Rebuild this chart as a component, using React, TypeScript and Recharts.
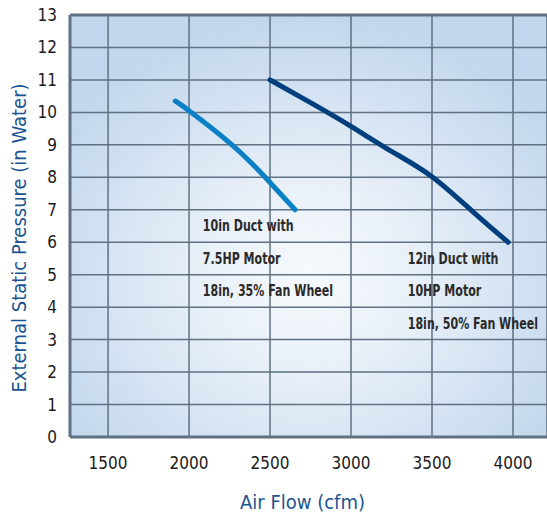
import React from 'react';
import { LineChart, Line, XAxis, YAxis, CartesianGrid, ReferenceLine, ReferenceDot } from 'recharts';

// 10in duct / 7.5HP motor curve
const smallFanFlow = [1915, 2000, 2265, 2470, 2655];
const smallFanPressure = [10.35, 10.05, 9.0, 8.0, 7.0];

// 12in duct / 10HP motor curve
const largeFanFlow = [2500, 2750, 3000, 3250, 3500, 3750, 3970];
const largeFanPressure = [11.0, 10.3, 9.57, 8.8, 8.02, 6.95, 6.0];

const xTicks = [1500, 2000, 2500, 3000, 3500, 4000];
const yTicks = [0, 1, 2, 3, 4, 5, 6, 7, 8, 9, 10, 11, 12, 13];

const smallFanNotes = ['10in Duct with', '7.5HP Motor', '18in, 35% Fan Wheel'];
const largeFanNotes = ['12in Duct with', '10HP Motor', '18in, 50% Fan Wheel'];

const smallData = smallFanFlow.map((x, i) => ({ x, y: smallFanPressure[i] }));
const largeData = largeFanFlow.map((x, i) => ({ x, y: largeFanPressure[i] }));

const FONT = "'Liberation Sans Narrow', 'DejaVu Sans Condensed', 'Roboto', sans-serif";
const GRID = '#5f7182';

// no narrow bold font installed, so squeeze the notes horizontally
const noteShape = (text: string) => (props: any) => (
  <text
    transform={`translate(${props.cx}, ${props.cy}) scale(0.82, 1)`}
    dominantBaseline="central"
    fontFamily={FONT}
    fontWeight="bold"
    fontSize={15}
    fill="#2a2a2a"
  >
    {text}
  </text>
);

const App: React.FC = () => {
  return (
    <div style={{ position: 'absolute', left: 0, top: 0, width: 547, height: 516, background: '#fff' }}>
      <LineChart
        width={547}
        height={516}
        margin={{ top: 15, right: 0, bottom: 0, left: 0 }}
        style={{ fontFamily: FONT }}
      >
        <defs>
          <radialGradient id="plotGlow" cx="0.5" cy="0.62" r="0.62">
            <stop offset="0%" stopColor="#f7fafd" />
            <stop offset="35%" stopColor="#e9f0f8" />
            <stop offset="100%" stopColor="#c2d7ed" />
          </radialGradient>
        </defs>
        <CartesianGrid fill="url(#plotGlow)" stroke={GRID} strokeWidth={1.5} />
        <XAxis
          type="number"
          dataKey="x"
          domain={[1265, 4210]}
          ticks={xTicks}
          allowDataOverflow
          height={79}
          tickLine={false}
          tickSize={0}
          tickMargin={20}
          axisLine={{ stroke: GRID, strokeWidth: 3 }}
          tick={{ fill: '#1a1a1a', fontSize: 17 }}
          label={{
            value: 'Air Flow (cfm)',
            position: 'insideBottom',
            offset: 7,
            dx: -6,
            fill: '#1a5592',
            fontSize: 20,
          }}
        />
        <YAxis
          type="number"
          dataKey="y"
          domain={[0, 13]}
          ticks={yTicks}
          interval={0}
          width={70}
          tickLine={false}
          tickSize={0}
          tickMargin={13}
          axisLine={{ stroke: GRID, strokeWidth: 3 }}
          tick={{ fill: '#1a1a1a', fontSize: 17 }}
          label={{
            content: () => (
              <text
                x={19}
                y={238}
                transform="rotate(-90, 19, 238)"
                textAnchor="middle"
                dominantBaseline="central"
                fontFamily={FONT}
                fontSize={20}
                fill="#1a5592"
              >
                External Static Pressure (in Water)
              </text>
            ),
          }}
        />
        <ReferenceLine y={13} stroke={GRID} strokeWidth={3} />
        <Line
          data={smallData}
          dataKey="y"
          type="natural"
          stroke="#0a80c6"
          strokeWidth={5}
          strokeLinecap="round"
          dot={false}
          isAnimationActive={false}
        />
        <Line
          data={largeData}
          dataKey="y"
          type="natural"
          stroke="#003f7d"
          strokeWidth={5}
          strokeLinecap="round"
          dot={false}
          isAnimationActive={false}
        />
        {smallFanNotes.map((t, i) => (
          <ReferenceDot key={t} x={2085} y={6.5 - i} r={0} shape={noteShape(t)} />
        ))}
        {largeFanNotes.map((t, i) => (
          <ReferenceDot key={t} x={3350} y={5.5 - i} r={0} shape={noteShape(t)} />
        ))}
      </LineChart>
    </div>
  );
};

export default App;
